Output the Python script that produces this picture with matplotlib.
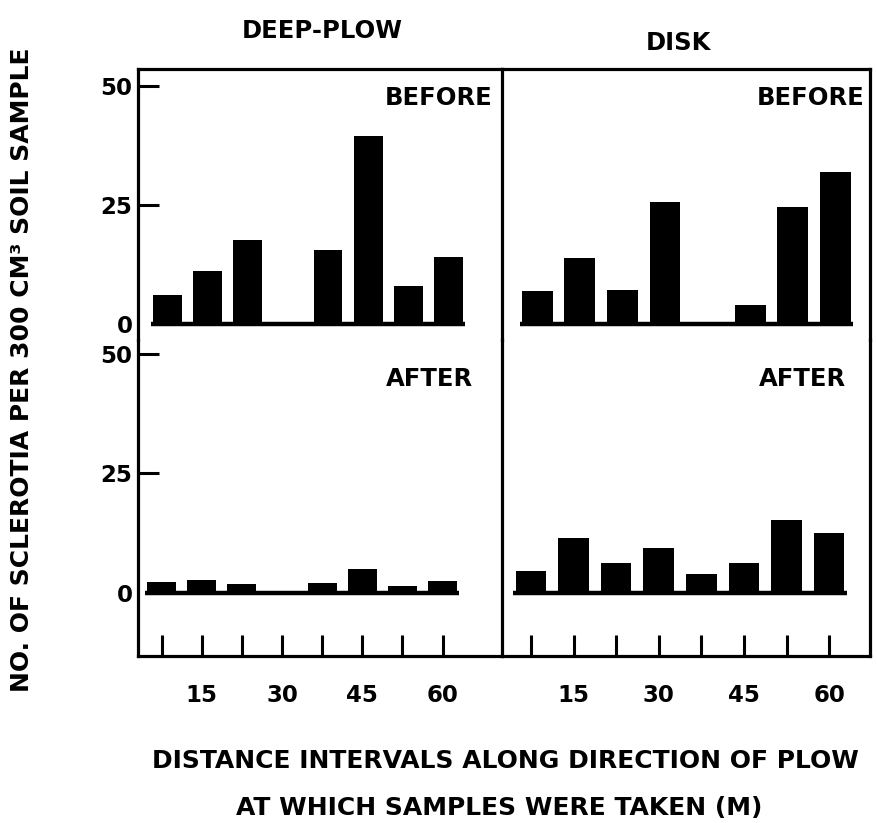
import matplotlib
matplotlib.use('Agg')
import matplotlib.pyplot as plt
import numpy as np

# data
distances = [7.5, 15, 22.5, 30, 37.5, 45, 52.5, 60]
deep_before = [6, 11, 17.5, 0, 15.5, 39.5, 8, 14]
deep_after = [2.3, 2.6, 1.9, 0, 2.1, 4.9, 1.4, 2.5]
disk_before = [6.9, 13.9, 7.1, 25.6, 0, 3.9, 24.5, 31.9]
disk_after = [4.5, 11.5, 6.3, 9.4, 3.8, 6.3, 15.3, 12.5]
yticks = [0, 25, 50]
labelled = [15, 30, 45, 60]

# style
W, H = 878, 823
LW = 2.3
BARW = 5.4
plt.rcParams['font.family'] = ['DejaVu Sans']
plt.rcParams['font.weight'] = 'bold'

fig = plt.figure(figsize=(W / 100, H / 100), dpi=100)


def rect(x0, y0, x1, y1):
    return [x0 / W, 1 - y1 / H, (x1 - x0) / W, (y1 - y0) / H]


# pixel layout of the four cells
xl, xm, xr = 138, 502, 870
yt, ym, yb = 69, 340, 656

ax_db = fig.add_axes(rect(xl, yt, xm, ym))
ax_sb = fig.add_axes(rect(xm, yt, xr, ym))
ax_da = fig.add_axes(rect(xl, ym, xm, yb))
ax_sa = fig.add_axes(rect(xm, ym, xr, yb))

cells = [
    (ax_db, deep_before, 'BEFORE', (3.1, 71.1), (-3.4, 53.5), 1.1, (0.975, 0.893)),
    (ax_sb, disk_before, 'BEFORE', (2.4, 67.2), (-3.4, 53.5), 1.1, (0.985, 0.893)),
    (ax_da, deep_after, 'AFTER', (3.1, 71.1), (-13.3, 53.0), 0.0, (0.92, 0.876)),
    (ax_sa, disk_after, 'AFTER', (2.4, 67.2), (-13.3, 53.0), 0.0, (0.934, 0.876)),
]

for ax, vals, tag, xlim, ylim, shift, tpos in cells:
    ax.patch.set_visible(False)  # so neighbouring cells don't cover the divider
    x = np.array(distances) + shift
    ax.bar(x, vals, width=BARW, color='black', edgecolor='none', zorder=3)
    ax.hlines(0, x.min() - BARW / 2 - 0.4, x.max() + BARW / 2 + 0.4,
              color='black', lw=3.2, zorder=4)
    ax.set_xlim(*xlim)
    ax.set_ylim(*ylim)
    ax.text(tpos[0], tpos[1], tag, transform=ax.transAxes, ha='right',
            va='center', fontsize=17.5, fontweight='bold')
    for s in ax.spines.values():
        s.set_linewidth(LW)
        s.set_capstyle('projecting')
    ax.tick_params(direction='in', length=15, width=2.2, labelsize=16.5,
                   color='black')

# spines
ax_db.spines['bottom'].set_visible(False)
ax_sb.spines['bottom'].set_visible(False)
ax_sb.spines['left'].set_visible(False)
ax_da.spines['top'].set_visible(False)
ax_sa.spines['top'].set_visible(False)
ax_sa.spines['left'].set_visible(False)

# y ticks only on the left column
for ax in (ax_db, ax_da):
    ax.set_yticks(yticks, labels=[str(v) for v in yticks])
    ax.tick_params(axis='y', pad=4)
    ax.yaxis.get_major_ticks()[0].tick1line.set_visible(False)
for ax in (ax_sb, ax_sa):
    ax.set_yticks([])

# x ticks only on the bottom row
for ax in (ax_db, ax_sb):
    ax.set_xticks([])
xlabels = [str(int(d)) if d in labelled else '' for d in distances]
for ax in (ax_da, ax_sa):
    ax.set_xticks(distances, labels=xlabels)
    ax.tick_params(axis='x', pad=20)

# panel titles
fig.text(322 / W, 1 - 31 / H, 'DEEP-PLOW', ha='center', va='center',
         fontsize=17.5, fontweight='bold')
fig.text(678 / W, 1 - 43 / H, 'DISK', ha='center', va='center',
         fontsize=17.5, fontweight='bold')

# axis labels
fig.text(22 / W, 1 - 370 / H, 'NO. OF SCLEROTIA PER 300 CM\u00b3 SOIL SAMPLE',
         rotation=90, ha='center', va='center', fontsize=18, fontweight='bold')
fig.text(505 / W, 1 - 761 / H, 'DISTANCE INTERVALS ALONG DIRECTION OF PLOW',
         ha='center', va='center', fontsize=18, fontweight='bold')
fig.text(499 / W, 1 - 808 / H, 'AT WHICH SAMPLES WERE TAKEN (M)',
         ha='center', va='center', fontsize=18, fontweight='bold')

fig.savefig('out.png', dpi=100)
